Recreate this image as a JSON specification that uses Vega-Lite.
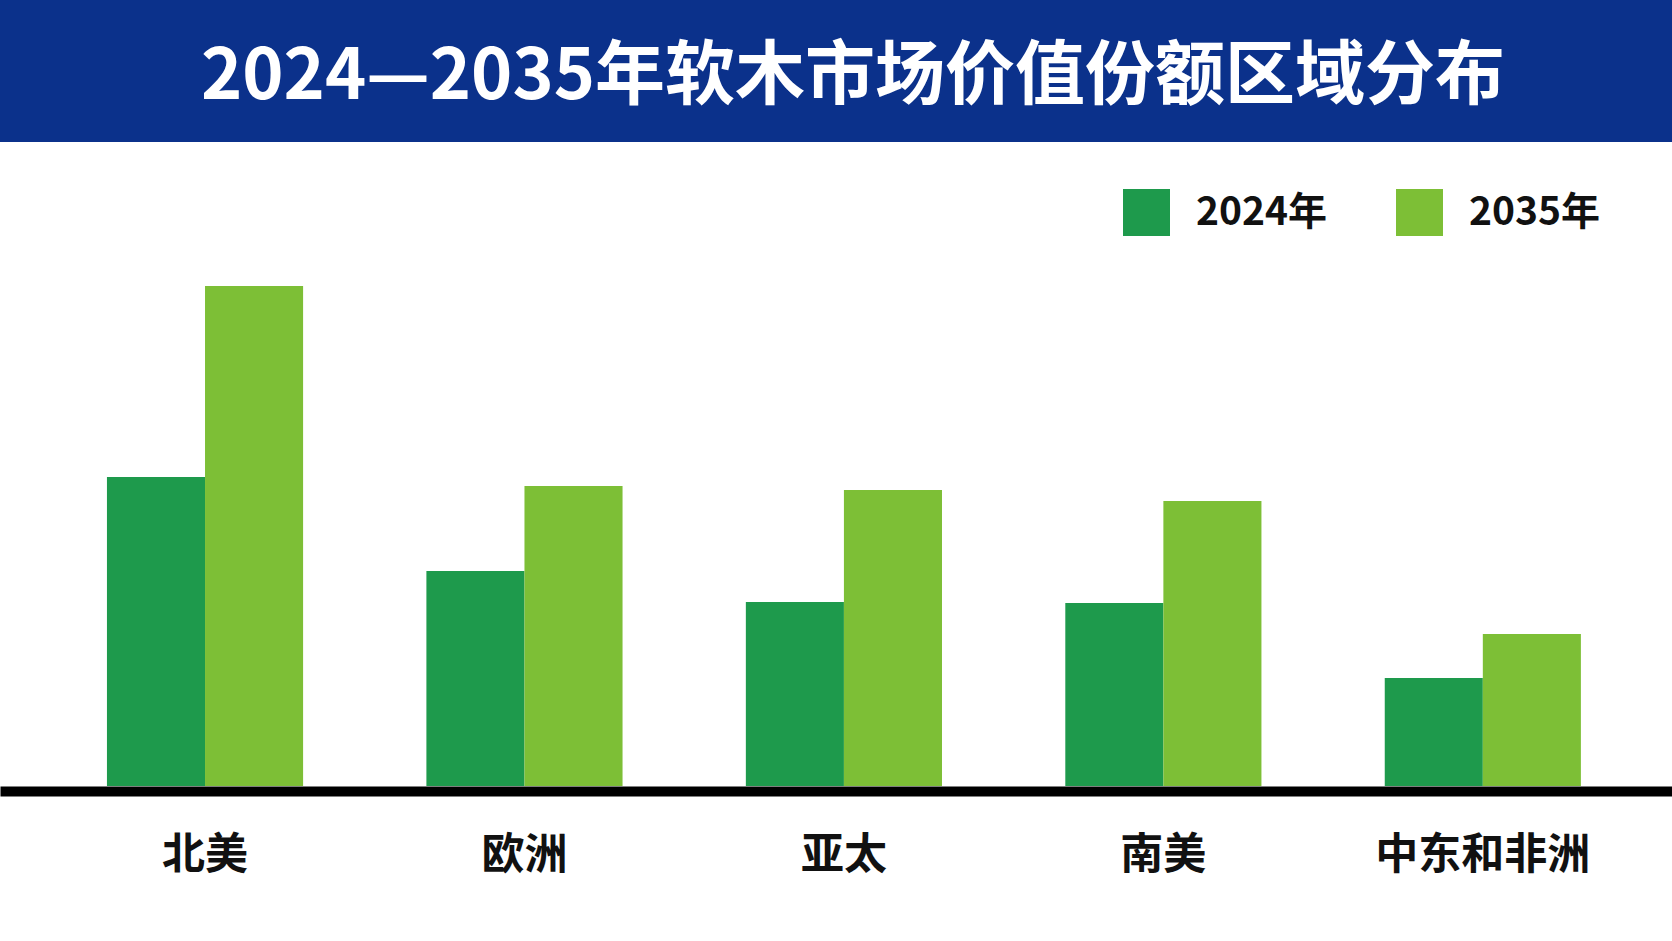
{
  "$schema": "https://vega.github.io/schema/vega-lite/v6.json",
  "background": "#ffffff",
  "padding": 0,
  "spacing": 0,
  "config": {
    "font": "Noto Sans CJK SC",
    "view": {"stroke": null},
    "concat": {"spacing": 0}
  },
  "vconcat": [
    {
      "width": 1672,
      "height": 142,
      "view": {"fill": "#0b318b", "stroke": null},
      "data": {"values": [{"t": "2024—2035年软木市场价值份额区域分布"}]},
      "mark": {"type": "text", "color": "#ffffff", "fontSize": 70, "fontWeight": "bold", "font": "Noto Sans CJK SC", "align": "center", "baseline": "middle", "dx": 17, "dy": 7},
      "encoding": {"text": {"field": "t", "type": "nominal"}}
    },
    {
      "width": 1672,
      "height": 644,
      "data": {"values": [
        {"region": "北美", "year": "2024年", "value": 30.9},
        {"region": "北美", "year": "2035年", "value": 50.0},
        {"region": "欧洲", "year": "2024年", "value": 21.5},
        {"region": "欧洲", "year": "2035年", "value": 30.0},
        {"region": "亚太", "year": "2024年", "value": 18.4},
        {"region": "亚太", "year": "2035年", "value": 29.6},
        {"region": "南美", "year": "2024年", "value": 18.3},
        {"region": "南美", "year": "2035年", "value": 28.5},
        {"region": "中东和非洲", "year": "2024年", "value": 10.8},
        {"region": "中东和非洲", "year": "2035年", "value": 15.2}
      ]},
      "mark": {"type": "bar"},
      "encoding": {
        "x": {
          "field": "region", "type": "nominal", "sort": null,
          "scale": {"paddingInner": 0.386, "paddingOuter": 0.31, "align": 0.54},
          "axis": {
            "title": null, "labelAngle": 0, "ticks": false, "domain": true,
            "domainColor": "#000000", "domainWidth": 10, "offset": 5,
            "labelPadding": 43, "labelFontSize": 43, "labelFontWeight": "bold",
            "labelColor": "#111111", "labelFont": "Noto Sans CJK SC", "grid": false,
            "labelLimit": 500, "labelBound": false, "labelOverlap": false
          }
        },
        "xOffset": {"field": "year", "type": "nominal", "scale": {"paddingInner": 0, "paddingOuter": 0}},
        "y": {"field": "value", "type": "quantitative", "scale": {"domain": [0, 64.4], "nice": false}, "axis": null},
        "color": {
          "field": "year", "type": "nominal",
          "scale": {"domain": ["2024年", "2035年"], "range": ["#1e9a4c", "#7dbf36"]},
          "legend": {
            "title": null, "orient": "none", "legendX": 1123, "legendY": 189,
            "direction": "horizontal", "symbolType": "square", "symbolSize": 2209,
            "symbolStrokeWidth": 0, "symbolOpacity": 1, "labelFontSize": 39, "labelFontWeight": "bold",
            "labelColor": "#111111", "labelFont": "Noto Sans CJK SC", "labelOffset": 26,
            "columnPadding": 68, "padding": 0, "labelLimit": 400
          }
        }
      }
    }
  ]
}
